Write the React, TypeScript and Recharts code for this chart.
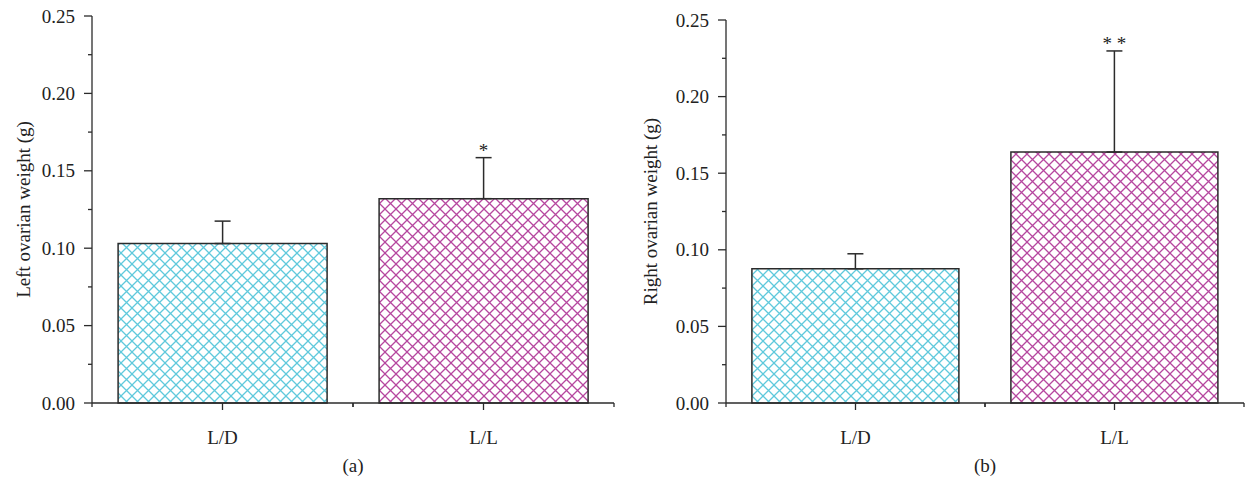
import React from 'react';
import { BarChart, Bar, XAxis, YAxis, ErrorBar, LabelList, Cell } from 'recharts';

// Ovarian weights, L/D vs L/L (mean + SD, only the upper whisker is drawn)
const categories = ['L/D', 'L/L'];
const leftWeight = [0.103, 0.132];
const leftError = [0.0145, 0.0265];
const leftMarks = ['', '*'];
const rightWeight = [0.0876, 0.1638];
const rightError = [0.0098, 0.066];
const rightMarks = ['', '* *'];
const yTicks = [0, 0.025, 0.05, 0.075, 0.1, 0.125, 0.15, 0.175, 0.2, 0.225, 0.25];
const fills = ['url(#hatchCyan)', 'url(#hatchMagenta)'];

const FONT = '"Liberation Serif", "Times New Roman", serif';
const INK = '#2b2b2b';
const FS = 19;

const buildRows = (vals: number[], errs: number[], marks: string[]) =>
  categories.map((c, i) => ({ name: c, value: vals[i], err: [0, errs[i]], mark: marks[i] }));

function YTick(props: any) {
  const { x, y, payload } = props;
  const v = payload.value;
  const major = Math.round(v * 1000) % 50 === 0;
  return (
    <g>
      <line x1={x} x2={x - (major ? 8 : 4)} y1={y} y2={y} stroke={INK} strokeWidth={1.3} />
      {major && (
        <text x={x - 17} y={y + 6.5} textAnchor="end" fontSize={FS} fontFamily={FONT} fill="#222">
          {v.toFixed(2)}
        </text>
      )}
    </g>
  );
}

const makeXTick = (band: number) => (props: any) => {
  const { x, y, payload } = props;
  return (
    <g>
      <line x1={x} x2={x} y1={y} y2={y + 7} stroke={INK} strokeWidth={1.3} />
      <line x1={x - band / 2} x2={x - band / 2} y1={y} y2={y + 4} stroke={INK} strokeWidth={1.3} />
      <line x1={x + band / 2} x2={x + band / 2} y1={y} y2={y + 4} stroke={INK} strokeWidth={1.3} />
      <text x={x} y={y + 41} textAnchor="middle" fontSize={FS} fontFamily={FONT} fill="#222">
        {payload.value}
      </text>
    </g>
  );
};

const makeMark = (rows: any[]) => (props: any) => {
  const { x, y, width, height, index } = props;
  const row = rows[index];
  if (!row || !row.mark) return null;
  const top = y - (row.err[1] * height) / row.value;
  return (
    <text x={x + width / 2} y={top - 1} textAnchor="middle" fontSize={FS} fontFamily={FONT} fill="#222">
      {row.mark}
    </text>
  );
};

interface PanelProps {
  left: number;
  width: number;
  axisWidth: number;
  top: number;
  right: number;
  rows: any[];
  title: string;
  labelX: number;
  tag: string;
}

function Panel({ left, width, axisWidth, top, right, rows, title, labelX, tag }: PanelProps) {
  const height = 482;
  const bottom = 403;
  const plotW = width - axisWidth - right;
  const midY = (top + bottom) / 2;
  return (
    <div style={{ position: 'absolute', left, top: 0, width, height }}>
      <BarChart
        width={width}
        height={height}
        data={rows}
        margin={{ top, right, bottom: height - bottom - 30, left: 0 }}
        barCategoryGap="10%"
      >
        <XAxis
          dataKey="name"
          height={30}
          axisLine={{ stroke: INK, strokeWidth: 1.3 }}
          tickLine={false}
          tickSize={0}
          tickMargin={0}
          interval={0}
          tick={makeXTick(plotW / categories.length)}
        />
        <YAxis
          type="number"
          domain={[0, 0.25]}
          ticks={yTicks}
          width={axisWidth}
          interval={0}
          axisLine={{ stroke: INK, strokeWidth: 1.3 }}
          tickLine={false}
          tickSize={0}
          tickMargin={0}
          tick={<YTick />}
          label={{
            content: () => (
              <text
                x={labelX}
                y={midY}
                transform={`rotate(-90, ${labelX}, ${midY})`}
                textAnchor="middle"
                fontSize={FS}
                fontFamily={FONT}
                fill="#222"
              >
                {title}
              </text>
            ),
          }}
        />
        <Bar dataKey="value" isAnimationActive={false} stroke={INK} strokeWidth={1.5}>
          {rows.map((_r, i) => (
            <Cell key={`c-${i}`} fill={fills[i % fills.length]} />
          ))}
          <ErrorBar dataKey="err" width={8} stroke={INK} strokeWidth={1.5} direction="y" />
          <LabelList dataKey="mark" content={makeMark(rows)} />
        </Bar>
      </BarChart>
      <div
        style={{
          position: 'absolute',
          left: axisWidth + plotW / 2 - 30,
          width: 60,
          top: 455,
          textAlign: 'center',
          fontFamily: FONT,
          fontSize: FS,
          color: '#222',
          lineHeight: '22px',
        }}
      >
        {tag}
      </div>
    </div>
  );
}

export default function App() {
  const leftRows = buildRows(leftWeight, leftError, leftMarks);
  const rightRows = buildRows(rightWeight, rightError, rightMarks);
  return (
    <div style={{ position: 'absolute', left: 0, top: 0, width: 1245, height: 482, background: '#fff' }}>
      <svg width={0} height={0} style={{ position: 'absolute' }}>
        <defs>
          <pattern id="hatchCyan" width={11} height={11} patternUnits="userSpaceOnUse">
            <rect width={11} height={11} fill="#fff" />
            <path d="M0,0 L11,11 M11,0 L0,11" stroke="#5fc9dc" strokeWidth={1.3} />
          </pattern>
          <pattern id="hatchMagenta" width={11} height={11} patternUnits="userSpaceOnUse">
            <rect width={11} height={11} fill="#fff" />
            <path d="M0,0 L11,11 M11,0 L0,11" stroke="#b6479f" strokeWidth={1.3} />
          </pattern>
        </defs>
      </svg>
      <Panel
        left={0}
        width={620}
        axisWidth={92}
        top={16}
        right={6}
        rows={leftRows}
        title="Left ovarian weight (g)"
        labelX={30}
        tag="(a)"
      />
      <Panel
        left={620}
        width={625}
        axisWidth={106}
        top={20}
        right={1}
        rows={rightRows}
        title="Right ovarian weight (g)"
        labelX={37}
        tag="(b)"
      />
    </div>
  );
}
